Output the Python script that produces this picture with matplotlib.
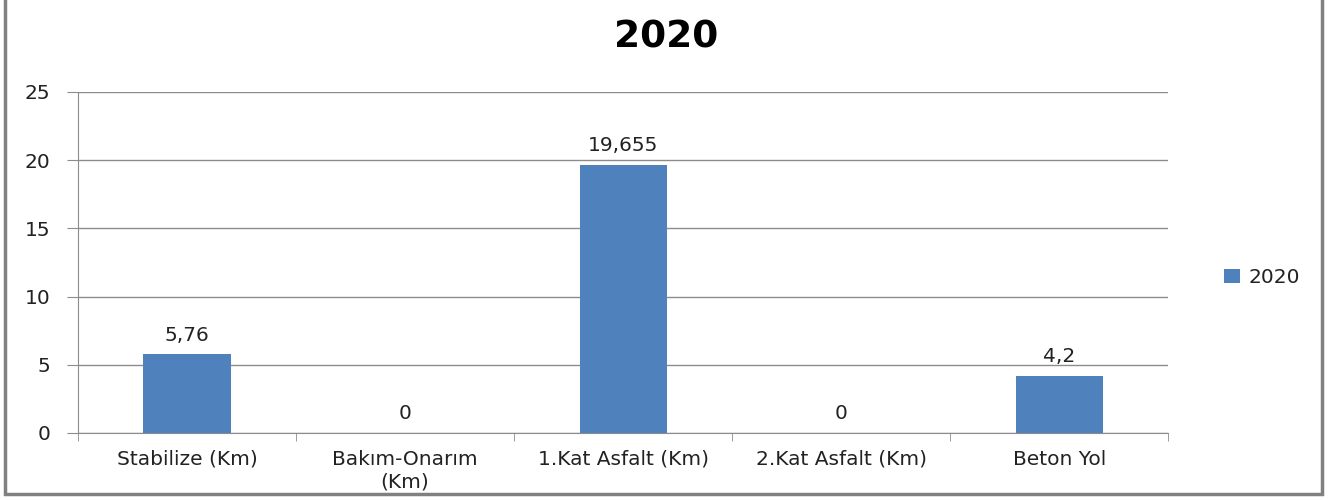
import numpy as np
from matplotlib import pyplot as plt
from matplotlib.lines import Line2D

categories = ['Stabilize (Km)', 'Bakım-Onarım\n(Km)', '1.Kat Asfalt (Km)', '2.Kat Asfalt (Km)', 'Beton Yol']
values_2020 = [5.76, 0, 19.655, 0, 4.2]
value_labels = ['5,76', '0', '19,655', '0', '4,2']
series_name = '2020'

bar_color = '#4F81BD'
grid_color = '#8C8C8C'
text_color = '#222222'

fig = plt.figure(figsize=(13.33, 5), dpi=100)
ax = fig.add_axes([0.0585, 0.134, 0.818, 0.682])

x = np.arange(len(categories))
bars = ax.bar(x, values_2020, width=0.4, color=bar_color, label=series_name, zorder=3)

for xi, v, lab in zip(x, values_2020, value_labels):
    ax.annotate(lab, (xi, v), xytext=(0, 7), textcoords='offset points',
                ha='center', va='bottom', fontsize=14.5, color=text_color)

ax.set_xlim(-0.5, len(categories) - 0.5)
ax.set_ylim(0, 25)
ax.set_yticks([0, 5, 10, 15, 20, 25])
ax.yaxis.grid(True, color=grid_color, linewidth=1, zorder=0)

ax.set_xticks(x)
ax.set_xticklabels(categories, fontsize=14.5, color=text_color, linespacing=1.25)
ax.set_xticks(np.arange(len(categories) + 1) - 0.5, minor=True)
ax.tick_params(axis='x', which='major', length=0, pad=12)
ax.tick_params(axis='x', which='minor', length=6, color=grid_color, direction='out')
ax.tick_params(axis='y', length=8, color=grid_color, labelsize=14.5, labelcolor=text_color, pad=12)

for side in ['top', 'right']:
    ax.spines[side].set_visible(False)
for side in ['left', 'bottom']:
    ax.spines[side].set_color(grid_color)

fig.text(0.5, 0.925, '2020', ha='center', va='center', fontsize=27, fontweight='bold')

leg = fig.legend(handles=[bars], labels=[series_name], loc='center left',
                 bbox_to_anchor=(0.905, 0.445), frameon=False, fontsize=14.5,
                 handlelength=0.75, handleheight=0.75, handletextpad=0.45)
for t in leg.get_texts():
    t.set_color(text_color)

# outer frame: left, bottom, right only (top is cut off in the original)
bx0, bx1, by0 = 0.0035, 0.9915, 0.012
frame = Line2D([bx0, bx0, bx1, bx1], [1.0, by0, by0, 1.0], transform=fig.transFigure,
               color='#808080', linewidth=2.5, solid_joinstyle='miter')
fig.lines.append(frame)

fig.savefig('out.png', dpi=100)
